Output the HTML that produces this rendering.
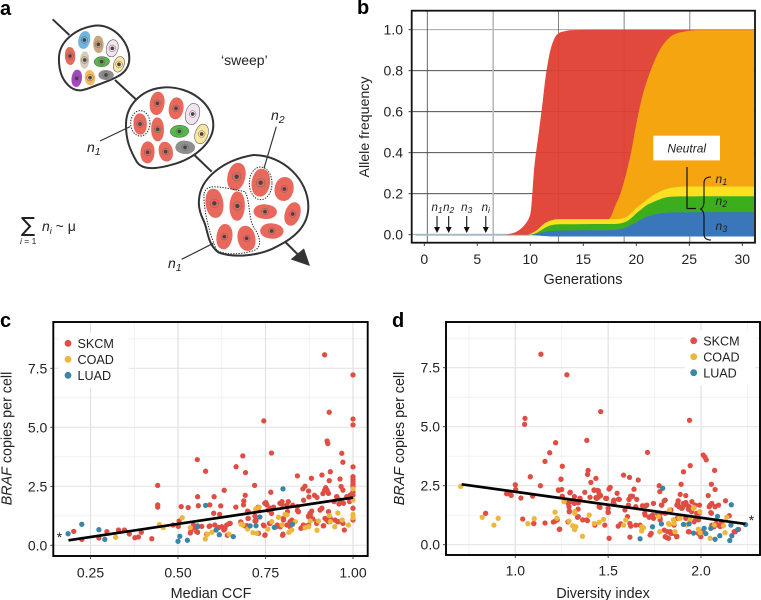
<!DOCTYPE html>
<html>
<head>
<meta charset="utf-8">
<title>Sweep model figure</title>
<style>
html,body{margin:0;padding:0;background:#fff;width:761px;height:600px;overflow:hidden}
svg{display:block;font-family:"Liberation Sans",Arial,sans-serif}
text{fill:#222}
</style>
</head>
<body>
<svg id="fig" xmlns="http://www.w3.org/2000/svg" width="761" height="600" viewBox="0 0 761 600">
  <rect width="761" height="600" fill="#fff"/>
  <text x="0" y="15" font-size="20" font-weight="bold" style="fill:#000">a</text>
  <text x="357" y="14" font-size="20" font-weight="bold" style="fill:#000">b</text>
  <text x="0" y="327" font-size="20" font-weight="bold" style="fill:#000">c</text>
  <text x="392" y="327" font-size="20" font-weight="bold" style="fill:#000">d</text>

  <g id="panelA">
    <g transform="scale(0.33333)">
      <g stroke="#333" stroke-width="6" fill="none">
        <line x1="158" y1="58" x2="208" y2="105"/>
        <line x1="345" y1="240" x2="410" y2="300"/>
        <line x1="583" y1="465" x2="635" y2="515"/>
        <line x1="850" y1="720" x2="895" y2="765"/>
      </g>
      <polygon points="930,798 872,778 912,745" fill="#333"/>
      <path d="M177,170 C180,125 225,85 285,77 C340,72 388,125 388,175 C388,222 345,235 300,252 C265,264 240,282 212,262 C190,245 175,215 177,170Z" fill="#fff" stroke="#333" stroke-width="6"/>
      <path d="M378,370 C380,310 430,265 495,262 C570,260 640,310 640,375 C640,425 590,470 530,490 C480,505 430,515 410,485 C390,450 377,420 378,370Z" fill="#fff" stroke="#333" stroke-width="6"/>
      <path d="M597,600 C600,535 670,480 760,465 C850,465 925,540 925,620 C925,680 880,715 830,740 C780,768 700,775 655,757 C620,730 625,690 610,660 C600,640 595,620 597,600Z" fill="#fff" stroke="#333" stroke-width="6"/>
      <g id="cells"></g>
      <ellipse cx="421" cy="370" rx="29" ry="38" fill="none" stroke="#222" stroke-width="3" stroke-dasharray="4 4"/>
      <ellipse cx="782" cy="550" rx="34" ry="49" fill="none" stroke="#222" stroke-width="3" stroke-dasharray="4 4"/>
      <path d="M612,580 C620,555 640,555 735,575 C750,600 745,650 760,680 C785,715 785,745 760,752 C720,765 670,765 650,750 C635,720 610,640 612,580Z" fill="none" stroke="#222" stroke-width="3" stroke-dasharray="4 4"/>
      <g stroke="#333" stroke-width="3.5">
        <line x1="300" y1="423" x2="390" y2="380"/>
        <line x1="829" y1="380" x2="792" y2="505"/>
        <line x1="545" y1="778" x2="640" y2="730"/>
      </g>
    </g>
    <text x="221" y="65" font-size="14">‘sweep’</text>
    <text x="87" y="152" font-size="14" font-style="italic">n<tspan font-size="10.5" dy="3">1</tspan></text>
    <text x="271" y="120" font-size="14" font-style="italic">n<tspan font-size="10.5" dy="3">2</tspan></text>
    <text x="168" y="268" font-size="14" font-style="italic">n<tspan font-size="10.5" dy="3">1</tspan></text>
    <text x="21" y="232" font-size="21" font-family="'DejaVu Sans',sans-serif">∑</text>
    <text x="20" y="244" font-size="8.5"><tspan font-style="italic">i</tspan> = 1</text>
    <text x="42" y="231" font-size="14"><tspan font-style="italic">n<tspan font-size="9" dy="3">i</tspan></tspan><tspan dy="-3"> ~ μ</tspan></text>
  </g>

  <g id="panelB"></g>
  <g id="panelC"></g>
  <g id="panelD"></g>
</svg>

<script>
/* ---------- Panel b data ---------- */
const generations = [0,7.5,8.5,9,9.5,10,10.4,10.8,11.1,11.5,12,12.5,13,14,16,17.5,18,18.5,19,19.5,20,20.5,21,21.5,22,22.5,23,23.5,24,25,26,31.3];
const sweep1Freq  = [0,0,.01,.025,.05,.1,.34,.5,.62,.79,.92,.975,.99,.998,1,1,1,1,1,1,1,1,1,1,1,1,1,1,1,1,1,1];
const sweep2Freq  = [0,0,0,0,0,0,0,0,0,0,0,0,0,0,.02,.08,.14,.2,.29,.4,.54,.66,.75,.82,.88,.925,.955,.975,.985,.995,.998,.998];
const neutral1Top = [0,0,0,0,0,.005,.015,.03,.045,.06,.07,.075,.076,.076,.076,.076,.076,.078,.085,.105,.13,.15,.17,.19,.205,.217,.225,.23,.234,.235,.235,.235];
const neutral2Top = [0,0,0,0,0,0,.005,.015,.025,.037,.047,.05,.051,.051,.052,.052,.052,.055,.063,.08,.105,.125,.145,.157,.168,.178,.184,.186,.187,.187,.188,.188];
const neutral3Top = [0,0,0,0,0,0,.003,.007,.01,.015,.018,.02,.02,.021,.022,.022,.023,.028,.035,.047,.06,.075,.088,.096,.102,.106,.108,.109,.109,.109,.11,.11];
const bXTicks = [0,5,10,15,20,25,30];
const bYTicks = [0,0.2,0.4,0.6,0.8,1.0];
const bVGrid = [0.28,6.5,12.66,18.85,25.05];
const mutationTimes = [1.2,2.3,4,5.8];
const mutationNames = ['1','2','3','i'];

/* ---------- Panel c data ---------- */
const cXTicks = [0.25,0.5,0.75,1.0];
const cXMinor = [0.375,0.625,0.875];
const copyTicks = [0,2.5,5,7.5];
const copyMinor = [1.25,3.75,6.25,8.75];
const cFit = [[0.187,0.21],[1.0,2.02]];
const cSKCM = [[.202,.59],[.225,.25],[.274,.31],[.297,.58],[.33,.65],[.347,.65],[.361,.48],[.377,.32],[.387,.35],[.395,.55],[.425,.28],[.442,2.54],[.442,1.71],[.442,1.62],[.486,.86],[.501,.8],[.503,1.03],[.509,1.64],[.529,1.6],[.555,3.63],[.556,2.06],[.558,1.68],[.535,.52],[.537,.62],[.546,.75],[.556,.55],
[.919,8.07],[1,7.22],[.932,5.64],[.745,5.27],[1,5.35],[1,5.1],[.926,4.42],[.928,4.31],[.767,3.91],[.968,3.9],[.685,3.79],[.971,3.52],[.666,3.33],[.579,3.14],[.693,3.08],[1,3.32],[.935,3.12],[.841,2.94],[.911,2.98],[.881,2.84],[.963,2.81],[.932,2.74],[1,2.91],[1,2.81],[1,2.7],[1,2.58],[1,2.47],[1,2.27],[.719,2.54],[.632,2.33],[.863,2.5],[.857,2.39],[.873,2.3],[.966,2.49],[.922,2.44],[.919,2.33],[.926,2.33],[.914,2.19],[.93,2.2],[.765,2.25],[.692,2.12],[.603,2.06],[.89,2.12],[.897,2.03],[.874,2.05],[.859,1.91],[.797,1.85],[.797,1.74],[.815,1.85],[.688,1.88],[.687,1.71],[.751,1.81],[.754,1.71],[.591,1.71],[.622,1.67],[.665,1.62],[.73,1.62],[.773,1.62],[.763,1.57],[.699,1.45],[.73,1.47],[.602,1.36],[.619,1.31],[.701,1.14],[.722,1.07],[.801,1.14],[.813,1.43],[.841,1.47],[.841,1.64],[.873,1.21],[.882,1.45],[.878,1.29],[.911,1.57],[.906,1.5],[.946,1.85],[.954,2.06],[.973,1.78],[.982,2.06],[.99,1.85],[.96,1.75],[.93,1.43],[.935,1.14],[.925,1.07],[1,1.57],[1,1.07],[.987,2.06],[.544,.86],[.568,.8],[.589,.8],[.605,.86],[.616,.75],[.625,.79],[.634,.69],[.639,.86],[.649,.93],[.68,.97],[.697,.83],[.72,1.03],[.744,.86],[.749,.44],[.73,.51],[.763,.93],[.8,.47],[.82,1],[.82,.79],[.784,.86],[.78,.79],[.854,.75],[.873,.86],[.885,1.12],[.897,1],[.92,1.14],[.93,1],[.956,1],[.971,.93],[.916,.83],[.975,.65],[.582,.47],
[.553,.58],[.556,.82],[.591,.82],[.615,.76],[.631,.65],[.641,.43],[.647,.93],[.679,.99],[.691,.82],[.7,1.14],[.723,1.04],[.746,.82],[.748,.43],[.761,.93],[.767,1.35],[.748,1.78],[.729,1.6],[.701,1.42],[.72,1.24],[.758,1.49],[.791,1.78],[.811,1.7],[.813,1.64],[.828,1.7],[.844,1.42],[.877,1.35],[.873,1.24],[.906,1.49],[.933,1.07],[.949,1.07],[.958,1],[.953,2.06],[.963,1.92],[.992,2.13],[.971,2.34],[.799,.43],[.801,1.07],[.825,1.07],[.792,.79],[.811,.86],[.851,.72],[.858,.86],[.896,.93],[.915,.82],[.863,.82],[1,2.13]];
const cCOAD = [[.322,.34],[.447,.88],[.458,.75],[.512,1.17],[.535,.75],[.578,.27],[.584,.47],[.597,.55],[.646,.47],[.68,.9],[.685,.86],[.699,.69],[.714,.54],[.725,.51],[.722,1.54],[.732,1.61],[.757,.69],[.768,1],[.787,1.19],[.797,.86],[.806,1.31],[.811,1.29],[.817,.55],[.825,.65],[.835,1],[.863,.75],[.873,.79],[.878,1.03],[.897,.64],[.901,1.03],[.933,1.26],[.935,1],[.948,.79],[.957,1.37],[.969,1.07],[.987,.86],[1,1.31],[1,1.17],[1,1.92],[1,2.39]];
const cLUAD = [[.186,.49],[.225,.89],[.274,.66],[.291,.25],[.5,.17],[.505,.38],[.527,.21],[.556,.79],[.579,1.69],[.609,.65],[.618,.45],[.658,.37],[.706,.82],[.723,.83],[.734,1.2],[.775,.76],[.8,2.39],[.827,.89]];

/* ---------- Panel d data ---------- */
const dXTicks = [1.0,1.5,2.0];
const dXMinor = [0.75,1.25,1.75,2.25];
const dFit = [[0.711,2.56],[2.239,0.88]];
const dSKCM = [[1.138,8.07],[1.278,7.2],[1.052,5.35],[1.05,5.1],[1.217,4.32],[1.185,3.9],[1.16,3.53],[1.253,3.32],[1.081,2.88],[1.246,2.78],[1,2.54],[1.135,2.5],[1.002,2.34],[1.25,2.34],[1.233,2.3],[1.296,2.22],[.953,2.16],[.968,2.16],[.978,2.09],[1.03,1.98],[1.093,2.06],[1.253,2.05],[1.287,1.79],[1.289,1.61],[1.291,1.43],[.84,1.33],[1.04,1.09],[1.099,.9],[1.16,.92],[1.205,.96],[1.215,1],[1.226,1.05],[1.239,.66],[1.284,.97],[1.312,1.82],
[1.46,5.64],[1.938,5.27],[1.385,4.42],[1.712,3.91],[2.012,3.8],[2.021,3.71],[2.028,3.6],[1.942,3.35],[1.906,3.09],[2.073,3.15],[1.392,3.15],[1.389,2.98],[1.434,2.81],[1.407,2.64],[1.583,2.95],[1.615,2.85],[1.662,2.74],[1.893,2.56],[2.056,2.56],[2.076,2.34],[1.775,2.5],[1.778,2.25],[1.511,2.43],[1.505,2.36],[1.425,2.3],[1.443,2.3],[1.374,2.22],[1.451,2.16],[1.46,2.08],[1.434,1.99],[1.548,2.18],[1.631,2.05],[1.613,1.92],[1.556,1.93],[1.529,1.85],[1.532,1.72],[1.487,1.96],[1.888,2.13],[1.918,2.08],[2.039,2.08],[2.132,1.86],[1.802,1.86],[1.744,1.75],[1.787,1.68],[1.685,1.65],[1.703,1.65],[1.649,1.61],[1.877,1.86],[1.87,1.68],[1.882,1.61],[1.9,1.57],[1.918,1.79],[1.936,1.61],[1.951,1.82],[2.049,1.68],[2.044,1.61],[2.076,1.61],[1.451,1.61],[1.5,1.54],[1.5,1.37],[1.59,1.47],[1.604,1.19],[1.335,1.16],[1.363,1.05],[1.388,1.02],[1.338,1.51],[1.349,1.96],[1.308,1.82],[1.326,1.79],[1.428,.83],[1.482,.83],[1.554,.79],[1.568,.88],[1.505,.27],[1.617,.32],[1.617,.9],[1.622,.79],[1.649,.83],[1.672,.83],[1.697,1.33],[1.721,1.16],[1.739,1.26],[1.766,1.33],[1.732,.48],[1.78,1.05],[1.802,.62],[1.82,.55],[1.838,.48],[1.816,.3],[1.87,.35],[1.855,.83],[1.838,1.47],[1.873,1.12],[1.918,1.12],[1.972,1.12],[1.936,.55],[1.999,.34],[2.008,.55],[1.963,.97],[1.99,1.33],[2.056,1.33],[2.08,.9],[2.098,.83],[2.152,1.23],[2.179,.55],[2.07,.76],
[1.246,2.77],[1.232,2.32],[1.294,2.2],[1.318,2.04],[1.402,2.01],[1.348,1.96],[1.424,2.32],[1.447,2.29],[1.447,2.01],[1.438,1.96],[1.492,1.96],[1.56,1.92],[1.531,1.89],[1.528,1.78],[1.612,1.92],[1.621,2.06],[1.639,2.35],[1.654,1.92],[1.291,1.4],[1.318,1.75],[1.285,1.75],[1.339,1.78],[1.456,1.58],[1.501,1.37],[1.609,1.68],[1.339,1.19],[1.384,1.05],[1.1,.9],[1.237,.65],[1.68,.76],[1.708,1.68],[1.789,1.68],[1.807,1.89],[1.875,1.75],[1.905,1.75],[1.896,1.54],[1.923,1.68],[1.932,1.5],[1.968,1.68],[1.992,1.68],[1.95,1.4],[1.977,1.33],[2.058,1.75],[2.053,1.36],[2.094,1.68],[1.744,1.12],[1.726,1.19],[1.699,1.26],[1.783,1.33],[1.807,1.33],[1.78,1.12],[1.852,1.05],[1.986,1.05],[2.058,.83],[2.094,.83],[2.112,.97],[1.726,.41],[1.852,.48],[1.834,.55],[1.807,.34],[1.825,.27],[1.869,.34],[1.932,.55],[1.986,.48],[2.103,.77],[2.202,.65],[2.184,.55]];
const dCOAD = [[.706,2.47],[.822,1.16],[.908,1.12],[.885,.83],[1.068,.89],[1.102,1.1],[1.214,1.38],[1.224,1.12],[1.262,1.82],[1.289,1],[1.309,.8],[1.318,.65],[1.321,1.33],[1.32,1.4],[1.326,.76],[1.32,.64],[1.398,1.26],[1.425,.9],[1.451,.95],[1.475,1.07],[1.362,.35],[1.583,.83],[1.595,1.05],[1.69,.72],[1.68,.58],[1.778,.55],[1.83,1.47],[1.829,.86],[1.855,.9],[1.882,1.12],[1.963,1.57],[1.994,1.4],[1.986,.66],[1.995,.51],[2.049,.27],[2.13,.51],[2.139,1.16],[2.121,.8],[2.071,.83],[1.681,.76],[1.771,1.19],[1.825,.9],[1.852,1.05],[1.86,.55],[1.887,1.12],[1.941,1.05],[1.959,1.54],[1.923,.84]];
const dLUAD = [[1.794,2.39],[2.163,1.69],[1.672,.25],[1.739,.76],[1.787,.88],[1.906,.86],[1.936,.88],[1.96,.49],[2.017,.69],[2.026,.47],[2.053,.69],[2.076,.23],[2.089,1.2],[2.101,.38],[2.155,.18],[2.166,.38],[2.161,.83],[2.197,.64],[2.24,.85]];

const legendNames = ['SKCM','COAD','LUAD'];

/* ---------- Axis functions ---------- */
const xB = g => 424.3 + g * 10.6;
const yB = f => 234.7 - f * 205;
const xC = v => 90.5 + (v - 0.25) * 350;
const yC = v => 545.3 - v * 23.6;
const xD = v => 515.3 + (v - 1) * 185.7;
const yD = v => 544.7 - v * 23.6;

const NS = 'http://www.w3.org/2000/svg';
function mk(parent, tag, attrs, txt) {
  const el = document.createElementNS(NS, tag);
  for (const k in attrs) el.setAttribute(k, attrs[k]);
  if (txt !== undefined) el.textContent = txt;
  parent.appendChild(el);
  return el;
}

/* ---------- Panel a cells ---------- */
const RED = '#e8685c';
const cellSpecs = [
 [253,120,19,27,10,'#6fb5e0',0],[295,133,17,26,-5,'#c9a77e',0],[337,145,19,26,10,'#f3e3ee',1],[210,168,17,27,-5,RED,0],[254,180,15,26,0,'#d8cbb8',0],[305,185,25,15,0,'#55b848',1],[357,193,17,24,15,'#fbe6a0',1],[230,235,17,26,5,'#a646c0',0],[270,233,17,23,-10,'#f6bb5d',0],[318,225,25,15,5,'#8e8e8e',0],
 [472,310,24,35,5,RED,0],[528,325,24,33,5,RED,0],[578,342,23,32,10,'#f3e3ee',1],[420,372,22,32,-5,RED,0],[473,388,21,36,-3,RED,0],[538,394,30,18,0,'#55b848',1],[605,402,21,30,15,'#fbe6a0',1],[555,442,32,20,5,'#8e8e8e',0],[443,457,23,33,0,RED,0],[497,455,23,30,-15,RED,0],
 [710,530,29,42,10,RED,0],[782,548,30,42,5,RED,0],[853,567,31,36,5,RED,0],[643,610,29,44,-10,RED,0],[712,618,25,44,0,RED,0],[795,635,38,22,5,RED,0],[878,642,25,36,15,RED,0],[673,710,26,38,5,RED,0],[740,715,29,38,-15,RED,0],[815,693,38,23,5,RED,0]
];
const cellsG = document.getElementById('cells');
cellSpecs.forEach((s, i) => {
  const g = mk(cellsG, 'g', {});
  
  
  const rx = s[2], ry = s[3];
  const egg = `M0,${-ry} C${rx * 1.3},${-ry} ${rx * 1.1},${ry} 0,${ry} C${-rx * 1.35},${ry} ${-rx * 1.15},${-ry} 0,${-ry}Z`;
  const flip = i % 2 ? 180 : 0;
  const body = mk(g, 'path', {d:egg, transform:`translate(${s[0]} ${s[1]}) rotate(${s[4] + flip})`, fill:s[5], stroke:s[6] ? '#444' : 'none', 'stroke-width':1.5});
  
  
  const ring = mk(g, 'circle', {cx:s[0], cy:s[1], r:Math.max(rx, ry) > 40 ? 13 : 10, fill:'none', stroke:'#666', 'stroke-width':1.5});
  
  
  const nuc = mk(g, 'circle', {cx:s[0], cy:s[1], r:Math.max(rx, ry) > 40 ? 6.5 : 5.5, fill:'#4a4145'});
  
  
});

/* ---------- Panel b ---------- */
const pb = document.getElementById('panelB');
bYTicks.forEach(v => {
  const l = mk(pb, 'line', {x1:411.7, x2:755, y1:yB(v), y2:yB(v), stroke:(v === 0 || v === 1) ? '#999' : '#333', 'stroke-width':0.8});
  
  
});
bVGrid.forEach((g, i) => {
  const l = mk(pb, 'line', {x1:xB(g), x2:xB(g), y1:10.7, y2:242.7, stroke:i === 1 ? '#bbb' : (i === 0 ? '#444' : '#666'), 'stroke-width':i === 1 ? 1.6 : 0.8});
  
  
});
function curvePath(gs, top) {
  const X = gs.map(g => xB(Math.min(g, 31.1)));
  const Y = top.map(yB);
  const n = X.length;
  const sec = [];
  for (let i = 0; i < n - 1; i++) sec.push((Y[i + 1] - Y[i]) / ((X[i + 1] - X[i]) || 1));
  const m = X.map((_, i) => {
    if (i === 0) return sec[0];
    if (i === n - 1) return sec[n - 2];
    if (sec[i - 1] * sec[i] <= 0) return 0;
    return 2 * sec[i - 1] * sec[i] / (sec[i - 1] + sec[i]);
  });
  let d = `M${X[0].toFixed(1)},${Y[0].toFixed(1)}`;
  for (let i = 0; i < n - 1; i++) {
    const h = (X[i + 1] - X[i]) / 3;
    d += ` C${(X[i] + h).toFixed(1)},${(Y[i] + m[i] * h).toFixed(1)} ${(X[i + 1] - h).toFixed(1)},${(Y[i + 1] - m[i + 1] * h).toFixed(1)} ${X[i + 1].toFixed(1)},${Y[i + 1].toFixed(1)}`;
  }
  return d;
}
const areaPath = (gs, top, floor) => curvePath(gs, top) + ` L${xB(31.1).toFixed(1)},${yB(floor).toFixed(1)} L${xB(gs[0]).toFixed(1)},${yB(floor).toFixed(1)}Z`;
const bLine = mk(pb, 'line', {x1:xB(-0.8), x2:xB(10), y1:yB(0), y2:yB(0), stroke:'#a9bac8', 'stroke-width':2});


const a1 = mk(pb, 'path', {d:areaPath(generations, sweep1Freq, 0), fill:'#de3f32', 'fill-opacity':0.95});


const a2 = mk(pb, 'path', {d:areaPath(generations, sweep2Freq, 0), fill:'#f5a50f'});


const a3 = mk(pb, 'path', {d:areaPath(generations, neutral1Top, 0), fill:'#fde021'});


const a4 = mk(pb, 'path', {d:areaPath(generations, neutral2Top, 0), fill:'#3cae1e'});


const firstBlue = generations.findIndex(g => g >= 9.5);
const a5 = mk(pb, 'path', {d:curvePath(generations.slice(firstBlue), neutral3Top.slice(firstBlue)) + ` L${xB(31.1)},${yB(-0.009)} L${xB(12)},${yB(-0.009)}Z`, fill:'#3a76ba'});


const bFrame = mk(pb, 'rect', {x:411.7, y:10.7, width:343.3, height:232, fill:'none', stroke:'#111', 'stroke-width':1.8});


bXTicks.forEach(v => {
  const t = mk(pb, 'line', {x1:xB(v), x2:xB(v), y1:243, y2:246, stroke:'#333', 'stroke-width':0.9});
  
  
  const s = mk(pb, 'text', {x:xB(v), y:264, 'text-anchor':'middle', 'font-size':14}, String(v));
  
  
});
bYTicks.forEach(v => {
  const t = mk(pb, 'line', {x1:408.5, x2:411.7, y1:yB(v), y2:yB(v), stroke:'#333', 'stroke-width':0.9});
  
  
  const s = mk(pb, 'text', {x:403, y:yB(v) + 5, 'text-anchor':'end', 'font-size':14}, v.toFixed(1));
  
  
});
const bxt = mk(pb, 'text', {x:583, y:284, 'text-anchor':'middle', 'font-size':14.5}, 'Generations');


const byt = mk(pb, 'text', {x:369, y:127, 'text-anchor':'middle', 'font-size':14.2, transform:'rotate(-90 369 127)'}, 'Allele frequency');


mutationTimes.forEach((g, i) => {
  const x = xB(g);
  const s = mk(pb, 'text', {x:x, y:211, 'text-anchor':'middle', 'font-size':11.5, 'font-style':'italic'});
  
  
  const n = mk(s, 'tspan', {}, 'n');
  
  
  const sub = mk(s, 'tspan', {'font-size':8.5, dy:2}, mutationNames[i]);
  
  
  const a = mk(pb, 'line', {x1:x, x2:x, y1:216, y2:228, stroke:'#111', 'stroke-width':1.1});
  
  
  const h = mk(pb, 'polygon', {points:`${x - 3},${227} ${x + 3},${227} ${x},${233}`, fill:'#111'});
  
  
});
const nb = mk(pb, 'rect', {x:653.3, y:135.7, width:66.7, height:24.7, fill:'#fff'});


const nt = mk(pb, 'text', {x:686.7, y:152.5, 'text-anchor':'middle', 'font-size':12, 'font-style':'italic'}, 'Neutral');


const nl = mk(pb, 'path', {d:'M687,167 V208.5 H696', fill:'none', stroke:'#111', 'stroke-width':1.2});


const br = mk(pb, 'path', {d:'M711,177 C706,177 704,179 704,183 V202 C704,206 702,209 700,209 C702,209 704,212 704,216 V234 C704,238 706,240 711,240', fill:'none', stroke:'#111', 'stroke-width':1.1});


[['1',183],['2',205],['3',230]].forEach(p => {
  const s = mk(pb, 'text', {x:715.5, y:p[1], 'font-size':12, 'font-style':'italic'}, 'n');
  
  
  const sub = mk(s, 'tspan', {'font-size':9, dy:2}, p[0]);
  
  
});

/* ---------- Scatter panels ---------- */
const COLORS = {SKCM:'#df4d43', COAD:'#edb63c', LUAD:'#3b85a8'};
function scatterPanel(g, o) {
  o.xMinor.forEach(v => {
    const l = mk(g, 'line', {x1:o.x(v), x2:o.x(v), y1:o.top, y2:o.bottom, stroke:'#efefef', 'stroke-width':0.8});
    
    
  });
  copyMinor.forEach(v => {
    const l = mk(g, 'line', {x1:o.left, x2:o.right, y1:o.y(v), y2:o.y(v), stroke:'#efefef', 'stroke-width':0.8});
    
    
  });
  o.xTicks.forEach(v => {
    const l = mk(g, 'line', {x1:o.x(v), x2:o.x(v), y1:o.top, y2:o.bottom, stroke:'#dedede', 'stroke-width':1.1});
    
    
  });
  copyTicks.forEach(v => {
    const l = mk(g, 'line', {x1:o.left, x2:o.right, y1:o.y(v), y2:o.y(v), stroke:'#e4e4e4', 'stroke-width':1.2});
    
    
  });
  const lbg = mk(g, 'rect', {x:o.legX - 9, y:o.legY - 10, width:70, height:55, fill:'#fff'});
  
  
  [['SKCM', o.skcm], ['COAD', o.coad], ['LUAD', o.luad]].forEach(s => {
    s[1].forEach(p => {
      const c = mk(g, 'circle', {cx:o.x(p[0]).toFixed(1), cy:o.y(p[1]).toFixed(1), r:2.65, fill:COLORS[s[0]]});
      
      
    });
  });
  const fit = mk(g, 'line', {x1:o.x(o.fit[0][0]), y1:o.y(o.fit[0][1]), x2:o.x(o.fit[1][0]), y2:o.y(o.fit[1][1]), stroke:'#000', 'stroke-width':2.7});
  
  
  const fr = mk(g, 'rect', {x:o.left, y:o.top, width:o.right - o.left, height:o.bottom - o.top, fill:'none', stroke:'#000', 'stroke-width':1.9});
  
  
  o.xTicks.forEach(v => {
    const t = mk(g, 'line', {x1:o.x(v), x2:o.x(v), y1:o.bottom, y2:o.bottom + 3, stroke:'#333', 'stroke-width':0.9});
    
    
    const s = mk(g, 'text', {x:o.x(v), y:o.xLabY, 'text-anchor':'middle', 'font-size':14}, v.toFixed(o.xDec));
    
    
  });
  copyTicks.forEach(v => {
    const t = mk(g, 'line', {x1:o.left - 3, x2:o.left, y1:o.y(v), y2:o.y(v), stroke:'#333', 'stroke-width':0.9});
    
    
    const s = mk(g, 'text', {x:o.left - 6, y:o.y(v) + 5, 'text-anchor':'end', 'font-size':14}, v.toFixed(1));
    
    
  });
  const xt = mk(g, 'text', {x:o.xTitleX, y:598, 'text-anchor':'middle', 'font-size':14.4}, o.xTitle);
  
  
  const yt = mk(g, 'text', {x:o.yTitleX, y:438.5, 'text-anchor':'middle', 'font-size':14.3, transform:`rotate(-90 ${o.yTitleX} 438.5)`});
  
  
  const b = mk(yt, 'tspan', {'font-style':'italic'}, 'BRAF');
  
  
  const r = mk(yt, 'tspan', {}, ' copies per cell');
  
  
  legendNames.forEach((n, i) => {
    const cy = o.legY + i * 16;
    const c = mk(g, 'circle', {cx:o.legX, cy:cy, r:3.4, fill:COLORS[n]});
    
    
    const s = mk(g, 'text', {x:o.legX + 9.5, y:cy + 4.6, 'font-size':12.6}, n);
    
    
  });
  const st = mk(g, 'text', {x:o.starX, y:o.starY, 'text-anchor':'middle', 'font-size':14}, '*');
  
  
}
scatterPanel(document.getElementById('panelC'), {
  x:xC, y:yC, left:53.3, right:367.7, top:322, bottom:556,
  xTicks:cXTicks, xMinor:cXMinor, xDec:2, xLabY:577.5, xTitle:'Median CCF', xTitleX:211, yTitleX:11.5,
  skcm:cSKCM, coad:cCOAD, luad:cLUAD, fit:cFit, legX:68, legY:343.3, starX:59.5, starY:542
});
scatterPanel(document.getElementById('panelD'), {
  x:xD, y:yD, left:446, right:760, top:322, bottom:555,
  xTicks:dXTicks, xMinor:dXMinor, xDec:1, xLabY:575.5, xTitle:'Diversity index', xTitleX:603, yTitleX:404,
  skcm:dSKCM, coad:dCOAD, luad:dLUAD, fit:dFit, legX:693.7, legY:340.7, starX:751.5, starY:525
});
</script>
</body>
</html>
